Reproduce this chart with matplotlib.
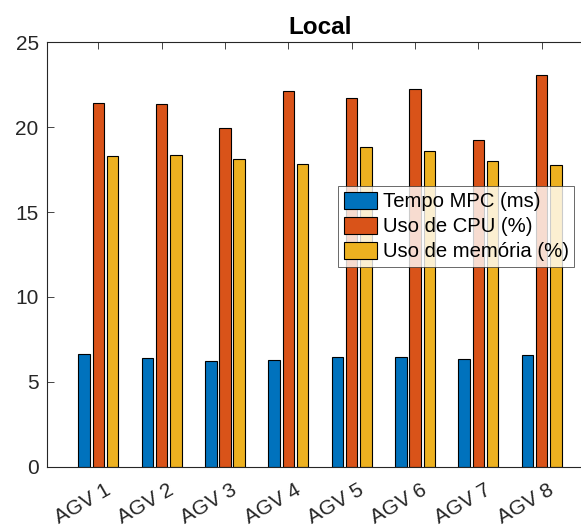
import numpy as np
import matplotlib
matplotlib.use("Agg")
import matplotlib.pyplot as plt
import matplotlib.transforms as mtransforms

plt.rcParams['font.family'] = ['Liberation Sans', 'DejaVu Sans']

categories = ["AGV 1", "AGV 2", "AGV 3", "AGV 4", "AGV 5", "AGV 6", "AGV 7", "AGV 8"]
tempo_mpc = [6.62, 6.39, 6.21, 6.29, 6.48, 6.48, 6.33, 6.56]
uso_cpu = [21.41, 21.35, 19.94, 22.14, 21.71, 22.24, 19.27, 23.06]
uso_mem = [18.29, 18.39, 18.11, 17.82, 18.82, 18.62, 18.03, 17.80]
series_labels = ["Tempo MPC (ms)", "Uso de CPU (%)", "Uso de memória (%)"]
colors = ["#0072BD", "#D95319", "#EDB120"]
y_ticks = [0, 5, 10, 15, 20, 25]

fig = plt.figure(figsize=(5.81, 5.27), dpi=100)
ax = fig.add_axes([0.0809, 0.1144, 0.9398, 0.8051])

x = np.arange(1, len(categories) + 1)
offset = 0.224
width = 0.18
for i, (vals, lab, col) in enumerate(zip([tempo_mpc, uso_cpu, uso_mem], series_labels, colors)):
    ax.bar(x + (i - 1) * offset, vals, width=width, color=col, edgecolor="black",
           linewidth=0.8, label=lab, zorder=2)

ax.set_xlim(0.19, 8.81)
ax.set_ylim(0, 25)
ax.set_yticks(y_ticks)
ax.set_xticks(x)
ax.set_xticklabels(categories, rotation=30, ha="right", va="top",
                   rotation_mode="anchor")
ax.tick_params(axis="both", direction="in", length=5, width=0.6, color="#262626",
               labelsize=15, labelcolor="#262626", top=True, right=False)
ax.tick_params(axis="x", pad=8)
ax.tick_params(axis="y", pad=6)
for s in ax.spines.values():
    s.set_color("#262626")
    s.set_linewidth(0.8)
ax.spines["right"].set_visible(False)

# nudge rotated category labels so their ends sit just right of each tick
shift = mtransforms.ScaledTranslation(6 / 100, -3 / 100, fig.dpi_scale_trans)
for lbl in ax.get_xticklabels():
    lbl.set_transform(lbl.get_transform() + shift)

ax.set_title("Local", fontsize=17.5, fontweight="bold", pad=6)

leg = ax.legend(loc="upper left", bbox_to_anchor=(0.5335, 0.6616), borderaxespad=0,
                fontsize=14.6, frameon=True, fancybox=False, shadow=False,
                handlelength=1.65, handleheight=0.9, handletextpad=0.25,
                labelspacing=0.28, borderpad=0.28)
leg.get_frame().set_edgecolor("#262626")
leg.get_frame().set_linewidth(0.6)

fig.savefig("out.png", dpi=100)
